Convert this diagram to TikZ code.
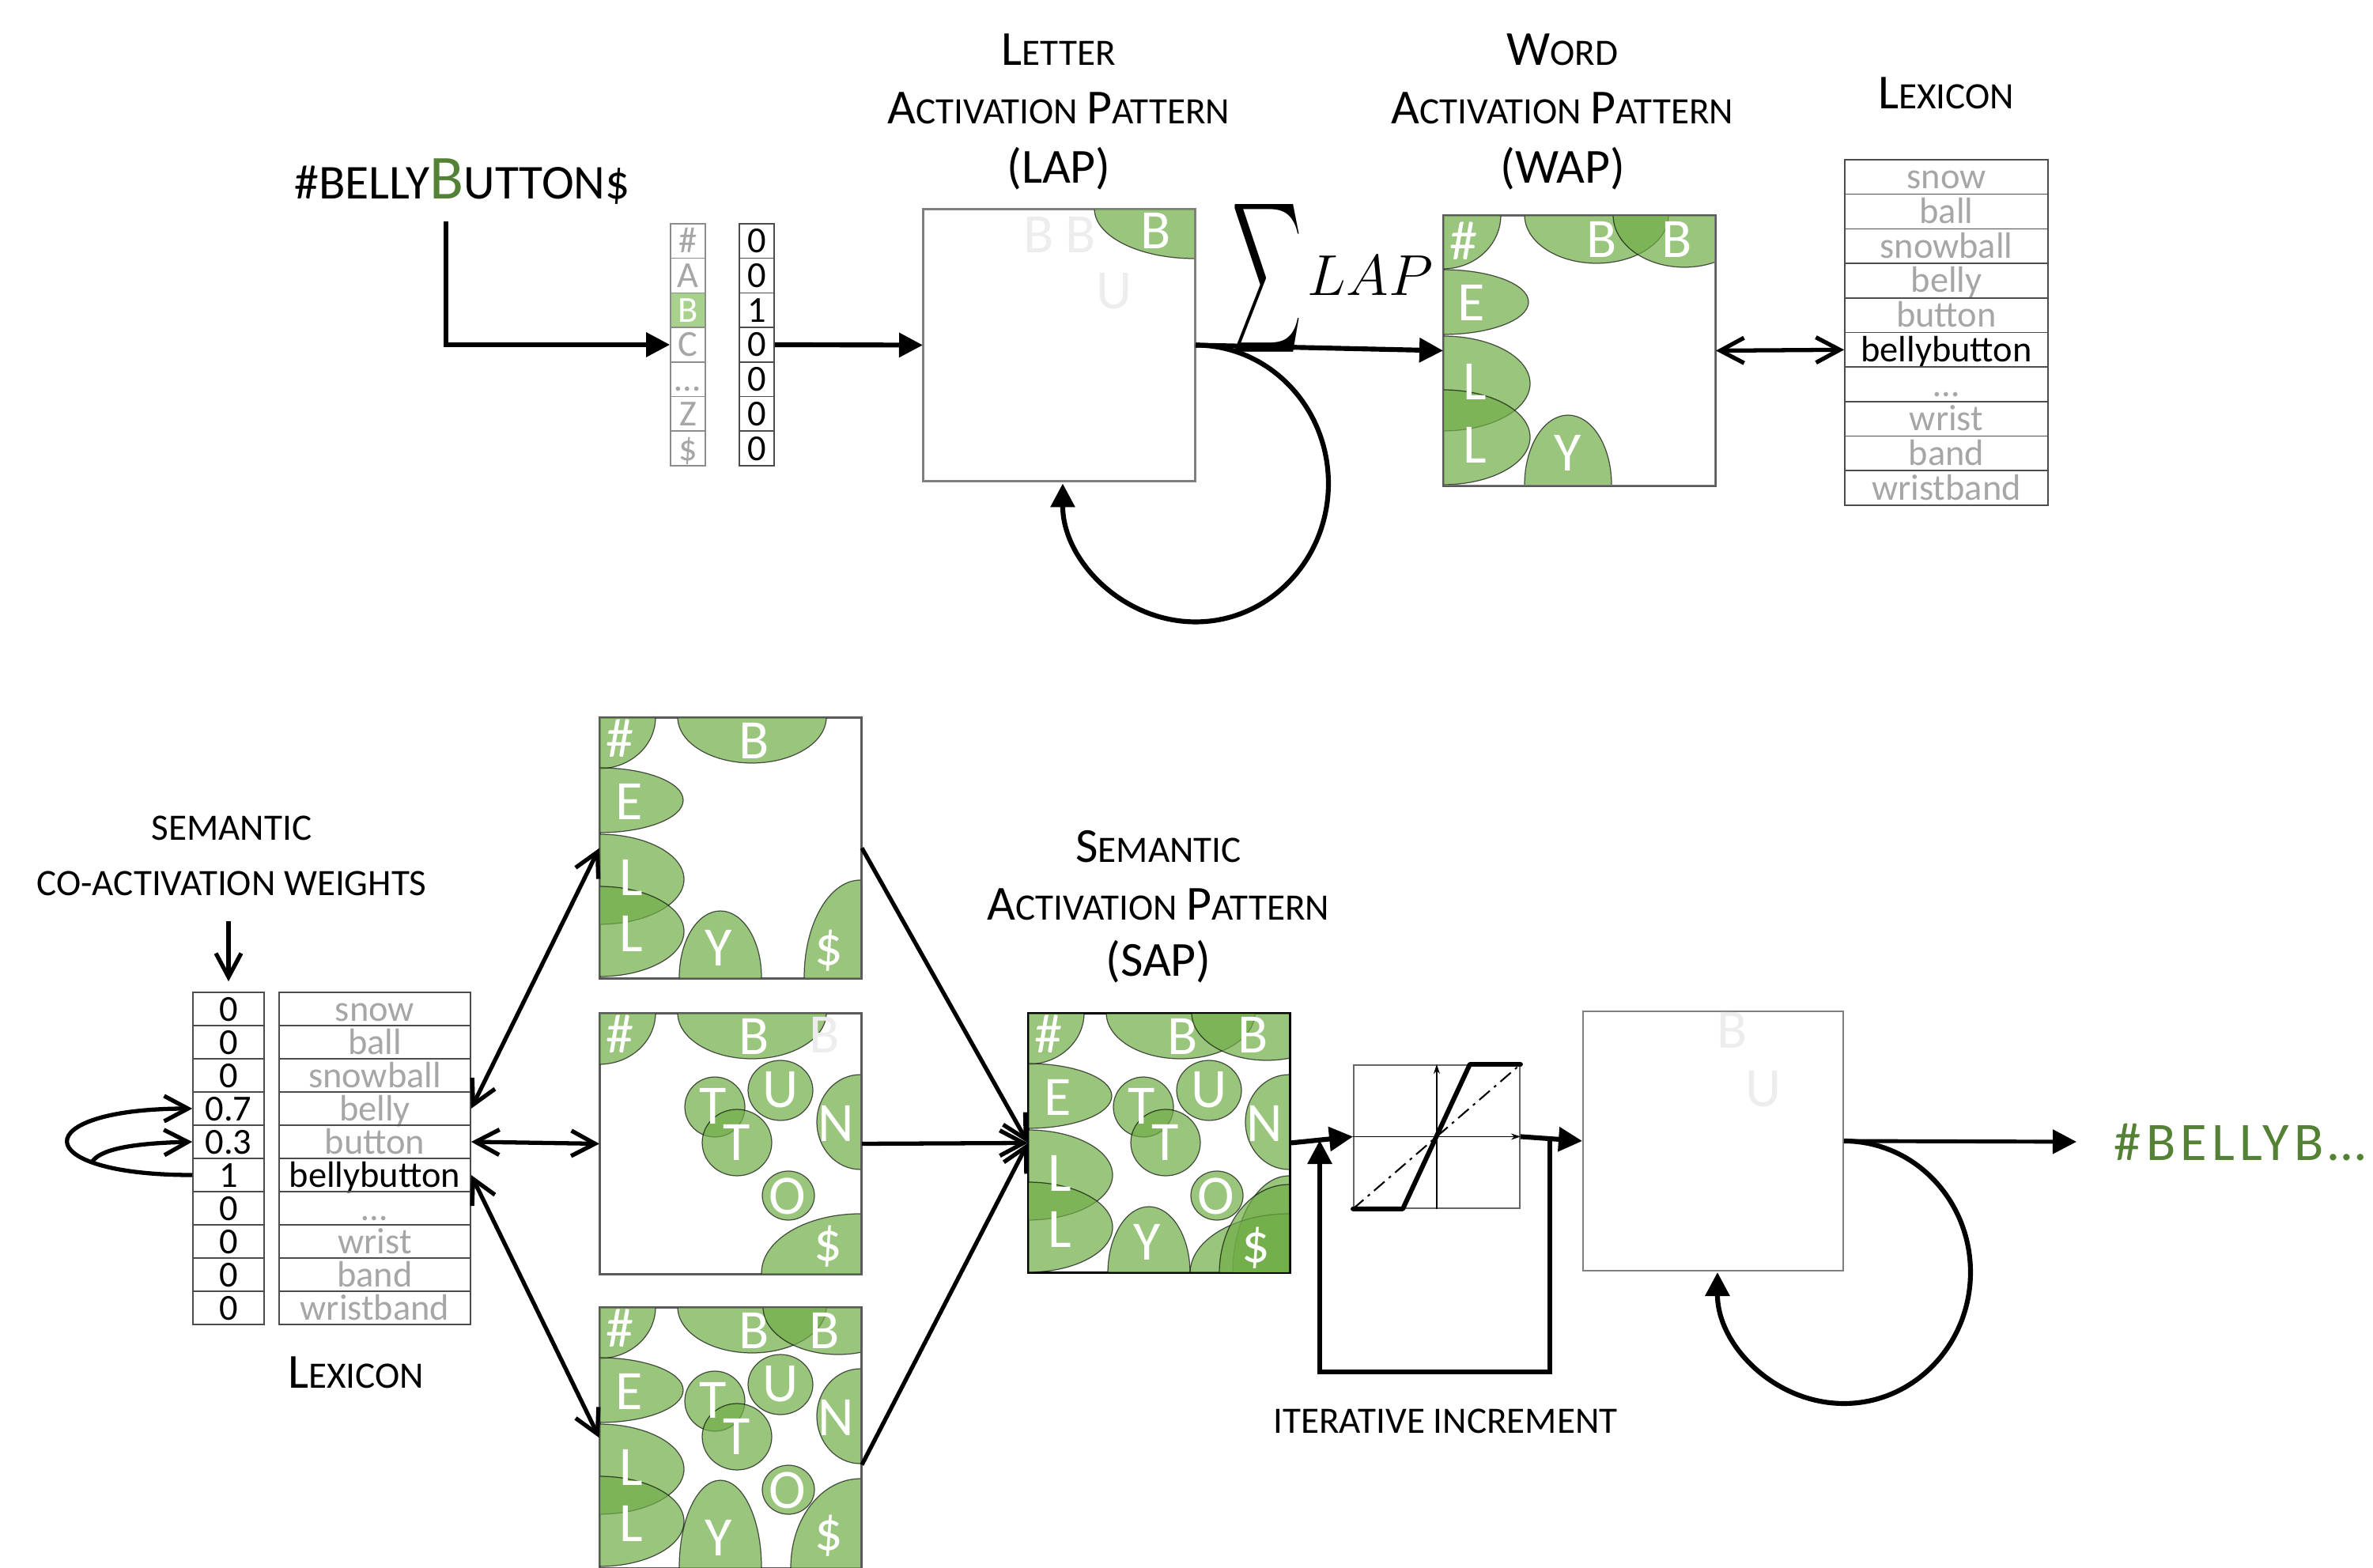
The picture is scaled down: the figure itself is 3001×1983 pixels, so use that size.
\documentclass[tikz,border=0pt]{standalone}
\usepackage{fontspec}
\setmainfont{Carlito}
\usepackage{graphicx}
\usetikzlibrary{arrows.meta}
\definecolor{tgreen}{HTML}{548235}
\definecolor{gfill}{HTML}{70AD47}
\definecolor{cgreen}{HTML}{A9D18E}
\definecolor{ltxt}{HTML}{A6A6A6}
\definecolor{bxline}{HTML}{7F7F7F}
\newcommand\fs[1]{\fontsize{#1}{#1}\selectfont}
\newcommand\BG[1]{{\fs{17.6}#1}}
\newcommand\gel[4]{\path[gel] (#1,#2) ellipse[x radius=#3, y radius=#4];}
\newcommand\gl[4]{\node[glet] (#1) at (#2,#3) {#4};}
\newcommand\fl[4]{\node[flet] (#1) at (#2,#3) {#4};}
\newcommand\eHash{\gel{0}{0}{71}{65}}
\newcommand\eBa{\gel{193}{0}{94}{58}}
\newcommand\eBb{\gel{302}{0}{95}{60}}
\newcommand\eE{\gel{0}{105}{106}{41}}
\newcommand\eLa{\gel{0}{205}{107}{57}}
\newcommand\eLb{\gel{0}{271}{107}{57}}
\newcommand\eY{\gel{153}{329}{52}{84}}
\newcommand\eDa{\gel{330}{329}{71}{123}}
\newcommand\eDb{\gel{330}{329}{125}{75}}
\newcommand\eDc{\gel{330}{329}{88}{112}}
\newcommand\eTa{\gel{146}{119}{38}{38}}
\newcommand\eTb{\gel{174}{164}{44}{42}}
\newcommand\eU{\gel{229}{98}{41}{38}}
\newcommand\eN{\gel{330}{138}{55}{60}}
\newcommand\eO{\gel{239}{231}{33}{31}}
\tikzset{
 pbox/.style={draw=bxline, line width=0.5pt, fill=white, inner sep=0pt, anchor=north west},
 tcell/.style={draw=black!70, line width=0.45pt, inner sep=0pt, text height=0.3cm, text depth=0cm, font=\fs{13.2}},
 gel/.style={fill=gfill, fill opacity=0.7, draw=black, draw opacity=0.65, line width=0.35pt},
 glet/.style={text=white, font=\fs{20}, inner sep=0pt},
 flet/.style={text=black!7, font=\fs{20}, inner sep=0pt},
 hdr/.style={anchor=base, inner sep=0pt, font=\fs{13.4}},
 bigarrow/.style={line width=1.75pt, -{Triangle[length=0.3cm,width=0.3cm]}},
 dbarb/.style={line width=1.5pt, {Straight Barb[length=0.3cm,width=0.32cm]}-{Straight Barb[length=0.3cm,width=0.32cm]}},
 sbarb/.style={line width=1.5pt, -{Straight Barb[length=0.3cm,width=0.32cm]}},
 border/.style={draw=black!65, line width=0.5pt},
}
\begin{document}
\begin{tikzpicture}[x=0.01cm, y=-0.01cm]
\useasboundingbox (0,0) rectangle (3001,1983);

% ================= TOP =================
\node[anchor=base west, inner sep=0pt, font=\fs{17.5}] (word) at (372,252) {\#BELLY{\color{tgreen}\fs{22.5}B}UTTON\$};

\foreach \t/\c/\f [count=\i] in {\#/ltxt/white, A/ltxt/white, B/white/cgreen, C/ltxt/white, …/ltxt/white, Z/ltxt/white, \$/ltxt/white} {
  \node[tcell, draw=black!45, fill=\f, text=\c, minimum width=0.44cm, minimum height=0.437cm] (l\i) at (870,{283+(\i-0.5)*43.7}) {\t};
}
\foreach \v [count=\i] in {0,0,1,0,0,0,0} {
  \node[tcell, text=black, minimum width=0.44cm, minimum height=0.437cm] (v\i) at (957,{283+(\i-0.5)*43.7}) {\v};
}
\coordinate (inS) at (564,280);
\draw[bigarrow] (inS) |- (l4.west);

% LAP
\node[pbox, minimum width=3.43cm, minimum height=3.43cm] (lap) at (1167,264) {};
\begin{scope}[shift={(lap.north west)}]
 \clip (0,0) rectangle (343,343);
 \gel{343}{0}{126}{63}
 \gl{lapb}{295}{28}{B}
 \fl{lapf1}{147}{33}{B}\fl{lapf2}{200}{33}{B}\fl{lapf3}{242}{104}{U}
\end{scope}
\draw[border, draw=bxline] (lap.north west) rectangle (lap.south east);
\draw[bigarrow] (v4.east) -- (lap.west);

\node[hdr] (hL1) at (1339,83) {\BG{L}ETTER};
\node[hdr] (hL2) at (1339,157) {\BG{A}CTIVATION \BG{P}ATTERN};
\node[hdr, font=\fs{17.6}] (hL3) at (1339,232) {(LAP)};

\node[inner sep=0pt] (sig) at (1603,352) {\resizebox{0.88cm}{1.4cm}{$\displaystyle\sum$}};
\node[inner sep=0pt, font=\fs{20}] (lapt) at (1733,349) {$LAP$};

% WAP
\node[pbox, minimum width=3.43cm, minimum height=3.41cm] (wap) at (1825,272) {};
\begin{scope}[shift={(wap.north west)}]
 \clip (0,0) rectangle (343,341);
 \gel{0}{0}{73}{68}\gel{194}{0}{91}{61}\gel{305}{0}{90}{66}
 \gel{0}{110}{108}{41}\gel{0}{213}{110}{60}\gel{0}{281}{110}{60}
 \gel{158}{341}{55}{88}
 \gl{wh}{26}{33}{\#}\gl{wb1}{201}{31}{B}\gl{wb2}{296}{31}{B}
 \gl{we}{36}{111}{E}\gl{wl1}{40}{211}{L}\gl{wl2}{40}{291}{L}\gl{wy}{158}{301}{Y}
\end{scope}
\draw[border] (wap.north west) rectangle (wap.south east);

\node[hdr] (hW1) at (1976,83) {\BG{W}ORD};
\node[hdr] (hW2) at (1976,157) {\BG{A}CTIVATION \BG{P}ATTERN};
\node[hdr, font=\fs{17.6}] (hW3) at (1976,232) {(WAP)};

\draw[bigarrow] (lap.east) -- (wap.west);
\draw[bigarrow] (lap.east) arc[start angle=-90, end angle=180, x radius=168, y radius=175];

% top lexicon
\foreach \w/\c [count=\i] in {snow/ltxt, ball/ltxt, snowball/ltxt, belly/ltxt, button/ltxt, bellybutton/black, …/ltxt, wrist/ltxt, band/ltxt, wristband/ltxt} {
  \node[tcell, text=\c, minimum width=2.57cm, minimum height=0.437cm] (t\i) at (2461.5,{202+(\i-0.5)*43.7}) {\w};
}
\node[hdr] (hLex) at (2461,138) {\BG{L}EXICON};
\draw[dbarb] (wap.east) -- (t6.west);

% ================= BOTTOM =================
\node[hdr] (hC1) at (293,1062) {SEMANTIC};
\node[hdr] (hC2) at (293,1132) {CO-ACTIVATION WEIGHTS};
\foreach \v [count=\i] in {0,0,0,0.7,0.3,1,0,0,0,0} {
  \node[tcell, text=black, minimum width=0.9cm, minimum height=0.42cm] (w\i) at (289,{1255+(\i-0.5)*42}) {\v};
}
\foreach \w/\c [count=\i] in {snow/ltxt, ball/ltxt, snowball/ltxt, belly/ltxt, button/ltxt, bellybutton/black, …/ltxt, wrist/ltxt, band/ltxt, wristband/ltxt} {
  \node[tcell, text=\c, minimum width=2.42cm, minimum height=0.42cm] (lx\i) at (474,{1255+(\i-0.5)*42}) {\w};
}
\node[hdr] (hX2) at (450,1755) {\BG{L}EXICON};
\coordinate (dA) at (289,1165);
\draw[sbarb, shorten >=0.13cm] (dA) -- (w1.north);
\draw[sbarb] (w6.west) .. controls +(-210,0) and +(-210,0) .. (w4.west);
\coordinate (ib) at (116,1470);
\draw[sbarb] (ib) .. controls (125,1455) and (160,1446) .. (w5.west);

% three pattern boxes
\node[pbox, draw=black!65, minimum width=3.3cm, minimum height=3.29cm] (b1) at (758,907) {};
\node[pbox, draw=black!65, minimum width=3.3cm, minimum height=3.29cm] (b2) at (758,1281) {};
\node[pbox, draw=black!65, minimum width=3.3cm, minimum height=3.29cm] (b3) at (758,1653) {};

\begin{scope}[shift={(b1.north west)}]
 \clip (0,0) rectangle (330,329);
 \eHash\eBa\eE\eLa\eLb\eY\eDa
 \gl{b1h}{26}{27}{\#}\gl{b1b}{196}{30}{B}\gl{b1e}{38}{107}{E}\gl{b1l}{40}{203}{L}\gl{b1m}{40}{274}{L}\gl{b1y}{151}{292}{Y}\gl{b1d}{290}{295}{\$}
\end{scope}
\draw[border] (b1.north west) rectangle (b1.south east);

\begin{scope}[shift={(b2.north west)}]
 \clip (0,0) rectangle (330,329);
 \eHash\eBa\eTa\eTb\eU\eN\eO\eDb
 \gl{b2h}{26}{27}{\#}\gl{b2b}{196}{30}{B}\fl{b2f}{285}{28}{B}
 \gl{b2t}{144}{118}{T}\gl{b2s}{174}{164}{T}\gl{b2u}{229}{97}{U}\gl{b2n}{299}{140}{N}\gl{b2o}{238}{232}{O}\gl{b2d}{289}{295}{\$}
\end{scope}
\draw[border] (b2.north west) rectangle (b2.south east);

\begin{scope}[shift={(b3.north west)}]
 \clip (0,0) rectangle (330,329);
 \eHash\eBa\eBb\eE\eLa\eLb\gel{153}{329}{52}{110}\eTa\eTb\eU\eN\eO\eDc
 \gl{b3h}{26}{27}{\#}\gl{b3b}{196}{30}{B}\gl{b3c}{285}{30}{B}\gl{b3e}{38}{107}{E}\gl{b3l}{40}{203}{L}\gl{b3m}{40}{274}{L}\gl{b3y}{151}{292}{Y}
 \gl{b3t}{144}{118}{T}\gl{b3s}{174}{164}{T}\gl{b3u}{229}{97}{U}\gl{b3n}{299}{140}{N}\gl{b3o}{238}{232}{O}\gl{b3d}{290}{289}{\$}
\end{scope}
\draw[border] (b3.north west) rectangle (b3.south east);

\draw[dbarb] (lx4.east) -- (b1.west);
\draw[dbarb] (lx5.east) -- (b2.west);
\draw[dbarb] (lx6.east) -- (b3.west);

% SAP
\node[pbox, draw=black, minimum width=3.3cm, minimum height=3.27cm] (sap) at (1300,1281) {};
\begin{scope}[shift={(sap.north west)}]
 \clip (0,0) rectangle (330,327);
 \eHash\eBa\eBb\eE\eLa\eLb\eY\eTa\eTb\eU\eN\eO\eDa\eDb\eDc
 \gl{sh}{26}{27}{\#}\gl{sb}{196}{30}{B}\gl{sc}{285}{28}{B}\gl{se}{38}{107}{E}\gl{sl}{40}{203}{L}\gl{sm}{40}{274}{L}\gl{sy}{151}{290}{Y}
 \gl{st}{144}{118}{T}\gl{ss}{174}{164}{T}\gl{su}{229}{97}{U}\gl{sn}{299}{140}{N}\gl{so}{238}{232}{O}\gl{sd}{288}{297}{\$}
\end{scope}
\draw[border, draw=black] (sap.north west) rectangle (sap.south east);
\node[hdr] (hS1) at (1465,1090) {\BG{S}EMANTIC};
\node[hdr] (hS2) at (1465,1163) {\BG{A}CTIVATION \BG{P}ATTERN};
\node[hdr, font=\fs{17.6}] (hS3) at (1465,1234) {(SAP)};

\draw[sbarb] (b1.east) -- (sap.west);
\draw[sbarb] (b2.east) -- (sap.west);
\draw[sbarb] ([yshift=-0.34cm]b3.east) -- (sap.west);

% threshold
\node[pbox, draw=black!60, minimum width=2.1cm, minimum height=1.81cm] (thr) at (1711,1346) {};
\draw[line width=0.4pt, -{Stealth[length=0.12cm,width=0.08cm]}] (thr.west) -- (thr.east);
\draw[line width=0.4pt, -{Stealth[length=0.12cm,width=0.08cm]}] (thr.south) -- (thr.north);
\draw[line width=0.6pt, dash pattern=on 5pt off 2pt on 1pt off 2pt] (thr.south west) -- (thr.north east);
\draw[line width=1.7pt, line cap=round, line join=round] (thr.south west) -- ++(63,0) -- ([xshift=-0.64cm]thr.north east) -- (thr.north east);
\draw[bigarrow] (sap.east) -- (thr.west);

% output pattern
\node[pbox, minimum width=3.29cm, minimum height=3.28cm] (out) at (2001,1278) {};
\fl{of1}{2191}{1303}{B}\fl{of2}{2230}{1377}{U}
\draw[bigarrow] (thr.east) -- (out.west);
\coordinate (fbA) at (1960,1437);
\coordinate (fbB) at (1669,1442);
\draw[bigarrow] (fbA) -- ++(0,298) -| (fbB);
\node[hdr] (hI) at (1828,1812) {ITERATIVE INCREMENT};

\node[anchor=base west, inner sep=0pt, text=tgreen, font=\fs{19.5}] (res) at (2673,1467) {\addfontfeatures{LetterSpace=9}\#BELLYB…};
\draw[line width=1.4pt, -{Triangle[length=0.3cm,width=0.3cm]}, shorten >=0.47cm] (out.east) -- (res.west);
\draw[bigarrow] (out.east) arc[start angle=-90, end angle=180, x radius=160, y radius=166];
\end{tikzpicture}
\end{document}
